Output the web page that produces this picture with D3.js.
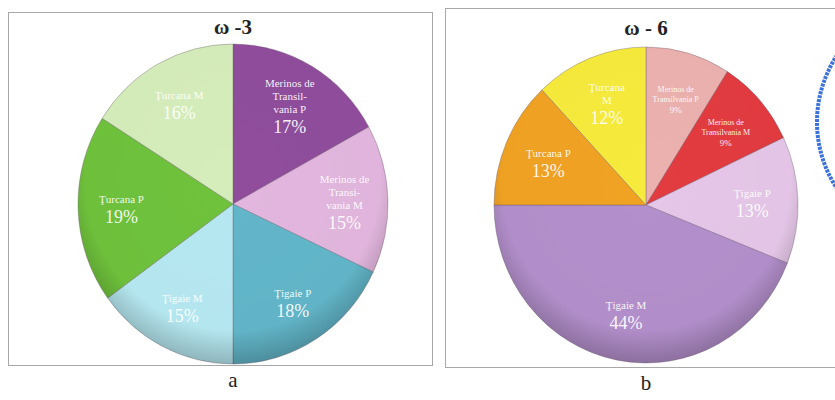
<!DOCTYPE html>
<html>
<head>
<meta charset="utf-8">
<script src="https://cdn.jsdelivr.net/npm/d3@7"></script>
<style>
  body { margin: 0; background: #fff; }
  svg { display: block; }
</style>
</head>
<body>
<div id="chart"></div>
<script>
// breeds, same order in both pies (clockwise from 12 o'clock)
const breedsA = [
  ["Merinos de", "Transil-", "vania P"],
  ["Merinos de", "Transi-", "vania M"],
  ["Ţigaie P"],
  ["Ţigaie M"],
  ["Ţurcana P"],
  ["Ţurcana M"]
];
const breedsB = [
  ["Merinos de", "Transilvania P"],
  ["Merinos de", "Transilvania M"],
  ["Ţigaie P"],
  ["Ţigaie M"],
  ["Ţurcana P"],
  ["Ţurcana", "M"]
];
const omega3 = [17, 15, 18, 15, 19, 16];
const omega6 = [9, 9, 13, 44, 13, 12];
const colorsA = ["#8f4d9c", "#e2b6de", "#62b6c9", "#b6e8f1", "#6fc23c", "#d5edba"];
const colorsB = ["#ebb1ae", "#e23b40", "#e5c6e8", "#b38fcb", "#f0a223", "#f6ea3c"];

const W = 835, H = 400;
const svg = d3.select("#chart").append("svg")
  .attr("width", W).attr("height", H)
  .style("font-family", "'Liberation Serif', 'DejaVu Serif', serif");

const defs = svg.append("defs");
const shade = defs.append("radialGradient").attr("id", "shade")
  .attr("cx", "50%").attr("cy", "42%").attr("r", "58%");
shade.append("stop").attr("offset", "0%").attr("stop-color", "#000").attr("stop-opacity", 0);
shade.append("stop").attr("offset", "82%").attr("stop-color", "#000").attr("stop-opacity", 0.01);
shade.append("stop").attr("offset", "100%").attr("stop-color", "#000").attr("stop-opacity", 0.22);

function drawPanel(cfg) {
  const g = svg.append("g");

  g.append("rect")
    .attr("x", cfg.frame[0] + 0.5).attr("y", cfg.frame[1] + 0.5)
    .attr("width", cfg.frame[2]).attr("height", cfg.frame[3])
    .attr("fill", "#fff").attr("stroke", "#a8a8a8");

  g.append("text")
    .attr("x", cfg.cx).attr("y", cfg.titleY)
    .attr("text-anchor", "middle")
    .attr("font-size", 21).attr("font-weight", "bold")
    .attr("fill", "#222")
    .text(cfg.title);

  const pie = d3.pie().sort(null).value(d => d)(cfg.values);
  const arc = d3.arc().innerRadius(0).outerRadius(cfg.rx);
  const k = cfg.ry / cfg.rx;

  const pg = g.append("g")
    .attr("transform", "translate(" + cfg.cx + "," + cfg.cy + ") scale(1," + k + ")");

  pg.selectAll("path.slice")
    .data(pie)
    .enter().append("path")
    .attr("class", "slice")
    .attr("d", arc)
    .attr("fill", (d, i) => cfg.colors[i])
    .attr("stroke", "#6a5a6a")
    .attr("stroke-opacity", 0.45)
    .attr("stroke-width", 0.8);

  pg.append("circle")
    .attr("r", cfg.rx)
    .attr("fill", "url(#shade)");

  const labelArc = d3.arc().innerRadius(cfg.rx * cfg.labelR).outerRadius(cfg.rx * cfg.labelR);

  const lab = g.selectAll("g.lab")
    .data(pie)
    .enter().append("g")
    .attr("class", "lab")
    .attr("transform", d => {
      const c = labelArc.centroid(d);
      return "translate(" + (cfg.cx + c[0]) + "," + (cfg.cy + c[1] * k) + ")";
    });

  lab.each(function(d, i) {
    const lines = cfg.names[i];
    const small = cfg.small(d.data);
    const nameSize = small ? 8 : 11;
    const pctSize = small ? 9 : 18;
    const lh = nameSize + 2;
    const total = lines.length * lh + pctSize;
    const t = d3.select(this).append("text")
      .attr("text-anchor", "middle")
      .attr("fill", "#fff")
      .attr("fill-opacity", 0.93);
    lines.forEach((s, j) => {
      t.append("tspan")
        .attr("x", 0)
        .attr("y", -total / 2 + (j + 1) * lh - 2)
        .attr("font-size", nameSize)
        .text(s);
    });
    t.append("tspan")
      .attr("x", 0)
      .attr("y", total / 2)
      .attr("font-size", pctSize)
      .text(d.data + "%");
  });

  g.append("text")
    .attr("x", cfg.cx).attr("y", cfg.capY)
    .attr("text-anchor", "middle")
    .attr("font-size", 21)
    .attr("fill", "#222")
    .text(cfg.caption);
}

drawPanel({
  frame: [8, 12, 424, 353],
  title: "ω -3", titleY: 34,
  cx: 233, cy: 204, rx: 155, ry: 160,
  values: omega3, colors: colorsA, names: breedsA,
  labelR: 0.72, small: v => false,
  caption: "a", capY: 387
});

drawPanel({
  frame: [445, 8, 395, 359],
  title: "ω - 6", titleY: 35,
  cx: 646, cy: 205, rx: 152, ry: 158,
  values: omega6, colors: colorsB, names: breedsB,
  labelR: 0.7, small: v => v < 10,
  caption: "b", capY: 390
});

// stamp partly visible at the right edge
svg.append("circle")
  .attr("cx", 938).attr("cy", 122).attr("r", 121)
  .attr("fill", "none").attr("stroke", "#3d72d8")
  .attr("stroke-width", 4).attr("stroke-dasharray", "3 1");
</script>
</body>
</html>
